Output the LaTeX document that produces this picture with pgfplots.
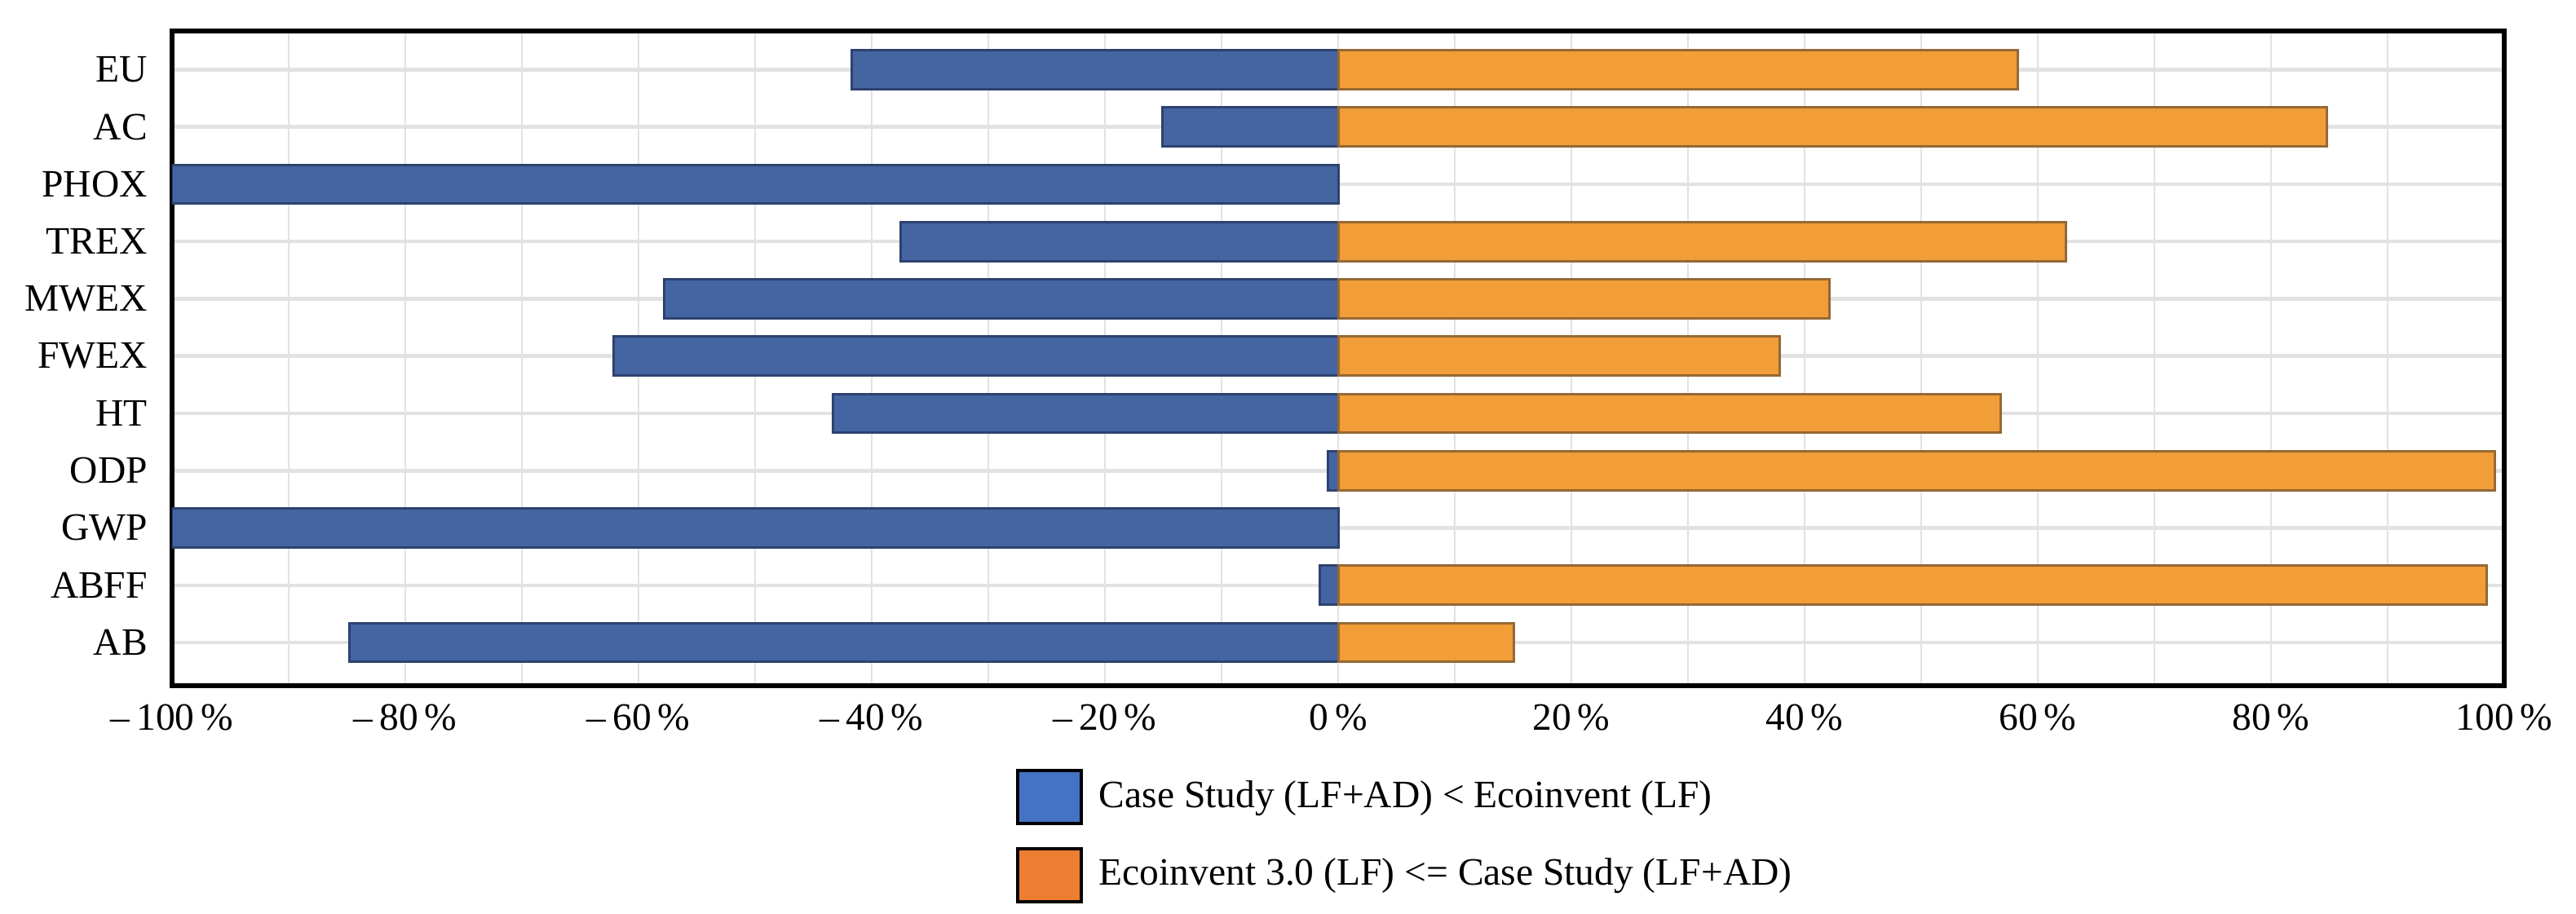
\documentclass[border=0pt]{standalone}
\usepackage{fontspec}
\setmainfont{Liberation Serif}
\usepackage{pgfplots}
\pgfplotsset{compat=1.18}

\definecolor{barblue}{RGB}{68,101,162}
\definecolor{barblueline}{RGB}{45,66,112}
\definecolor{barorange}{RGB}{241,157,56}
\definecolor{barorangeline}{RGB}{150,104,52}
\definecolor{legblue}{RGB}{68,114,196}
\definecolor{legorange}{RGB}{237,125,49}
\definecolor{gridgray}{RGB}{226,226,226}

\begin{document}
\begin{tikzpicture}
  % page size fixed to the reference proportions
  \useasboundingbox (-42.2pt,-56pt) rectangle (589.6pt,168.2pt);
  \begin{axis}[
    at={(0,0)}, anchor=south west,
    scale only axis,
    width=572pt, height=160.6pt,
    xmin=-100, xmax=100,
    ymin=-0.754, ymax=10.676,
    xtick={-100,-80,...,100},
    xticklabels={–\,100\,\%,–\,80\,\%,–\,60\,\%,–\,40\,\%,–\,20\,\%,0\,\%,20\,\%,40\,\%,60\,\%,80\,\%,100\,\%},
    minor xtick={-90,-70,...,90},
    ytick={0,...,10},
    yticklabels={AB,ABFF,GWP,ODP,HT,FWEX,MWEX,TREX,PHOX,AC,EU},
    major tick length=0pt, minor tick length=0pt,
    tick label style={font=\fontsize{9.5}{11}\selectfont},
    yticklabel style={xshift=-2.5pt},
    xticklabel style={yshift=-1pt},
    xmajorgrids, xminorgrids, ymajorgrids,
    major x grid style={gridgray, line width=0.45pt},
    minor x grid style={gridgray, line width=0.45pt},
    major y grid style={gridgray, line width=0.9pt},
    axis line style={black, line width=1.1pt},
    xbar, bar width=0.677, bar shift=0pt,
    legend cell align=left,
    legend style={
      at={(rel axis cs:0.3615,-0.126)}, anchor=north west,
      draw=none, fill=none, inner sep=0pt,
      font=\fontsize{9.5}{11}\selectfont,
      row sep=5.3pt,
      nodes={inner sep=2pt},
      /tikz/every odd column/.append style={column sep=2pt},
    },
  ]
    \addlegendimage{legend image code/.code={
      \draw[fill=legblue, draw=black, line width=0.8pt] (0pt,-6.5pt) rectangle (15.6pt,6.5pt);}}
    \addlegendentry{Case Study (LF+AD) < Ecoinvent (LF)}
    \addlegendimage{legend image code/.code={
      \draw[fill=legorange, draw=black, line width=0.8pt] (0pt,-6.5pt) rectangle (15.6pt,6.5pt);}}
    \addlegendentry{Ecoinvent 3.0 (LF) <= Case Study (LF+AD)}

    % Case Study (LF+AD) < Ecoinvent (LF)
    \addplot[forget plot, fill=barblue, draw=barblueline, line width=0.6pt] coordinates {
      (-84.8,0) (-1.6,1) (-100,2) (-0.9,3) (-43.3,4) (-62.1,5)
      (-57.8,6) (-37.5,7) (-100,8) (-15.1,9) (-41.7,10)
    };
    % Ecoinvent 3.0 (LF) <= Case Study (LF+AD)
    \addplot[forget plot, fill=barorange, draw=barorangeline, line width=0.6pt] coordinates {
      (15.1,0) (98.5,1) (99.2,3) (56.8,4) (37.9,5)
      (42.1,6) (62.4,7) (84.8,9) (58.3,10)
    };
  \end{axis}
\end{tikzpicture}
\end{document}
